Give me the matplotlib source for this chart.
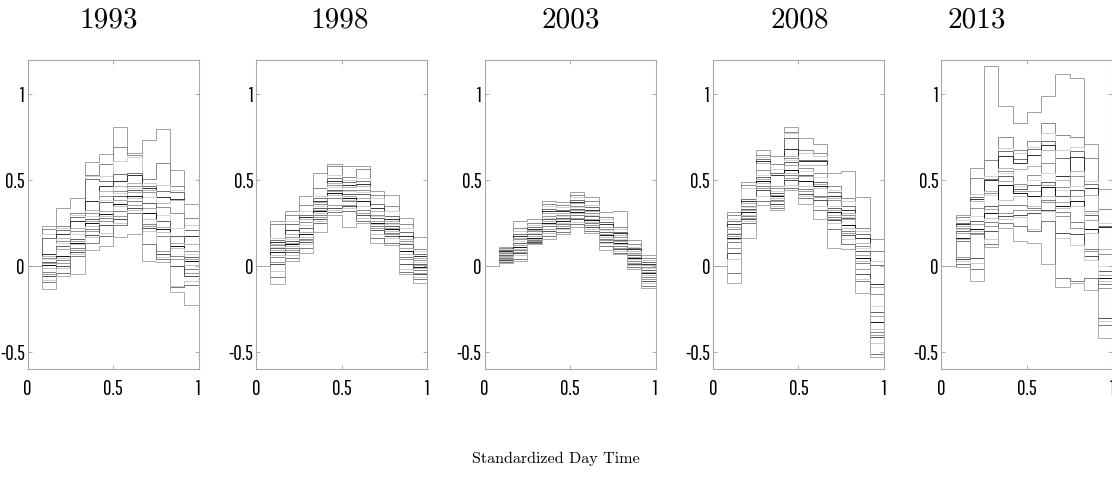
import numpy as np
import matplotlib
matplotlib.use("Agg")
import matplotlib.pyplot as plt

plt.rcParams['axes.unicode_minus'] = False

years = ['1993', '1998', '2003', '2008', '2013']
edges = np.linspace(0, 1, 13)

# levels per time bin (bins 2..12; bin 1 is 0 for every curve), read top to bottom
y1993 = [
    [0.232, 0.213, 0.184, 0.165, 0.068, 0.058, 0.049, 0.039, 0.023, 0.016, 0.004, -0.009, -0.033, -0.048, -0.058, -0.083, -0.096, -0.135],
    [0.339, 0.232, 0.223, 0.209, 0.184, 0.165, 0.145, 0.132, 0.116, 0.101, 0.058, 0.049, 0.035, 0.020, 0.000, -0.009, -0.038, -0.058],
    [0.397, 0.310, 0.300, 0.286, 0.261, 0.223, 0.203, 0.184, 0.155, 0.145, 0.136, 0.126, 0.107, 0.093, 0.081, 0.068, 0.058, -0.048],
    [0.604, 0.532, 0.522, 0.507, 0.377, 0.329, 0.310, 0.290, 0.275, 0.261, 0.248, 0.232, 0.217, 0.203, 0.178, 0.170, 0.136, 0.091],
    [0.652, 0.596, 0.522, 0.493, 0.464, 0.435, 0.406, 0.387, 0.371, 0.319, 0.304, 0.294, 0.281, 0.261, 0.236, 0.194, 0.174, 0.116],
    [0.812, 0.696, 0.613, 0.536, 0.493, 0.464, 0.435, 0.426, 0.406, 0.387, 0.364, 0.348, 0.319, 0.290, 0.271, 0.252, 0.236, 0.170],
    [0.658, 0.648, 0.634, 0.542, 0.532, 0.484, 0.468, 0.455, 0.441, 0.430, 0.410, 0.397, 0.377, 0.358, 0.339, 0.329, 0.306, 0.184],
    [0.735, 0.507, 0.484, 0.468, 0.455, 0.445, 0.430, 0.402, 0.368, 0.339, 0.306, 0.271, 0.242, 0.232, 0.223, 0.203, 0.126, 0.029],
    [0.797, 0.600, 0.474, 0.435, 0.402, 0.368, 0.344, 0.300, 0.265, 0.228, 0.217, 0.197, 0.174, 0.087, 0.068, 0.054, 0.039, 0.023],
    [0.557, 0.464, 0.445, 0.430, 0.391, 0.383, 0.310, 0.223, 0.174, 0.136, 0.116, 0.107, 0.058, 0.043, 0.000, -0.116, -0.125, -0.154],
    [0.362, 0.281, 0.236, 0.209, 0.174, 0.126, 0.087, 0.068, 0.054, 0.039, 0.029, 0.006, -0.019, -0.042, -0.058, -0.087, -0.112, -0.228],
]

y1998 = [
    [0.261, 0.242, 0.161, 0.149, 0.139, 0.130, 0.122, 0.112, 0.103, 0.091, 0.083, 0.064, 0.053, 0.025, 0.010, -0.029, -0.064, -0.106],
    [0.323, 0.296, 0.261, 0.242, 0.207, 0.184, 0.168, 0.155, 0.145, 0.136, 0.126, 0.116, 0.107, 0.095, 0.083, 0.064, 0.049, 0.029],
    [0.406, 0.354, 0.319, 0.300, 0.285, 0.271, 0.257, 0.238, 0.223, 0.199, 0.184, 0.168, 0.159, 0.149, 0.141, 0.126, 0.107, 0.078],
    [0.542, 0.455, 0.406, 0.397, 0.381, 0.371, 0.362, 0.348, 0.339, 0.329, 0.319, 0.310, 0.296, 0.285, 0.271, 0.261, 0.252, 0.198],
    [0.596, 0.580, 0.532, 0.513, 0.497, 0.484, 0.470, 0.459, 0.445, 0.435, 0.426, 0.416, 0.397, 0.358, 0.339, 0.329, 0.313, 0.296],
    [0.580, 0.517, 0.503, 0.489, 0.470, 0.459, 0.445, 0.435, 0.420, 0.406, 0.397, 0.387, 0.377, 0.358, 0.348, 0.339, 0.323, 0.228],
    [0.580, 0.567, 0.513, 0.493, 0.478, 0.464, 0.445, 0.431, 0.420, 0.397, 0.381, 0.348, 0.329, 0.310, 0.296, 0.281, 0.265, 0.252],
    [0.439, 0.416, 0.397, 0.362, 0.335, 0.319, 0.300, 0.290, 0.277, 0.261, 0.252, 0.242, 0.232, 0.223, 0.207, 0.184, 0.165, 0.136],
    [0.412, 0.348, 0.323, 0.290, 0.271, 0.265, 0.252, 0.242, 0.232, 0.223, 0.213, 0.203, 0.194, 0.184, 0.174, 0.165, 0.136, 0.122],
    [0.281, 0.246, 0.219, 0.199, 0.174, 0.159, 0.145, 0.136, 0.126, 0.107, 0.087, 0.068, 0.053, 0.039, 0.010, -0.019, -0.033, -0.048],
    [0.168, 0.097, 0.087, 0.072, 0.058, 0.045, 0.033, 0.025, 0.014, 0.006, -0.006, -0.014, -0.025, -0.039, -0.048, -0.064, -0.077, -0.097],
]

y2003 = [
    [0.112, 0.106, 0.100, 0.094, 0.088, 0.082, 0.077, 0.072, 0.066, 0.060, 0.055, 0.050, 0.045, 0.040, 0.035, 0.029, 0.022, 0.016],
    [0.261, 0.222, 0.203, 0.184, 0.174, 0.165, 0.155, 0.145, 0.132, 0.120, 0.112, 0.101, 0.093, 0.081, 0.074, 0.062, 0.043, 0.030],
    [0.271, 0.252, 0.236, 0.228, 0.217, 0.209, 0.201, 0.194, 0.184, 0.174, 0.165, 0.159, 0.151, 0.145, 0.139, 0.136, 0.132, 0.126],
    [0.377, 0.364, 0.348, 0.333, 0.319, 0.306, 0.294, 0.281, 0.271, 0.261, 0.252, 0.242, 0.232, 0.217, 0.203, 0.190, 0.174, 0.159],
    [0.373, 0.358, 0.344, 0.329, 0.319, 0.310, 0.300, 0.290, 0.281, 0.271, 0.261, 0.252, 0.242, 0.232, 0.223, 0.213, 0.197, 0.184],
    [0.429, 0.416, 0.402, 0.387, 0.375, 0.368, 0.352, 0.344, 0.333, 0.325, 0.314, 0.306, 0.296, 0.281, 0.271, 0.256, 0.242, 0.228],
    [0.402, 0.377, 0.358, 0.344, 0.329, 0.319, 0.310, 0.300, 0.290, 0.275, 0.267, 0.256, 0.248, 0.236, 0.228, 0.217, 0.203, 0.194],
    [0.315, 0.286, 0.271, 0.256, 0.242, 0.228, 0.217, 0.207, 0.197, 0.188, 0.178, 0.168, 0.159, 0.151, 0.141, 0.132, 0.116, 0.091],
    [0.319, 0.228, 0.213, 0.199, 0.190, 0.178, 0.168, 0.159, 0.151, 0.143, 0.136, 0.126, 0.116, 0.107, 0.097, 0.087, 0.078, 0.068],
    [0.151, 0.126, 0.112, 0.105, 0.097, 0.087, 0.078, 0.070, 0.062, 0.054, 0.047, 0.039, 0.029, 0.019, 0.010, 0.004, -0.004, -0.015],
    [0.062, 0.049, 0.035, 0.023, 0.014, 0.004, -0.004, -0.013, -0.023, -0.033, -0.042, -0.054, -0.063, -0.077, -0.087, -0.100, -0.116, -0.131],
]

y2008 = [
    [0.313, 0.300, 0.271, 0.261, 0.242, 0.228, 0.213, 0.194, 0.184, 0.174, 0.165, 0.155, 0.139, 0.107, 0.078, 0.039, -0.038, -0.100],
    [0.489, 0.474, 0.455, 0.391, 0.377, 0.368, 0.352, 0.344, 0.333, 0.325, 0.313, 0.300, 0.290, 0.281, 0.271, 0.261, 0.248, 0.165],
    [0.673, 0.648, 0.634, 0.623, 0.609, 0.600, 0.561, 0.532, 0.518, 0.507, 0.493, 0.484, 0.468, 0.455, 0.441, 0.406, 0.377, 0.358],
    [0.642, 0.596, 0.565, 0.542, 0.532, 0.464, 0.455, 0.435, 0.426, 0.414, 0.406, 0.395, 0.387, 0.377, 0.364, 0.352, 0.339, 0.325],
    [0.808, 0.783, 0.774, 0.745, 0.681, 0.638, 0.629, 0.619, 0.604, 0.590, 0.561, 0.542, 0.532, 0.513, 0.503, 0.474, 0.455, 0.445],
    [0.745, 0.677, 0.658, 0.619, 0.609, 0.590, 0.571, 0.551, 0.532, 0.522, 0.497, 0.464, 0.449, 0.435, 0.422, 0.410, 0.397, 0.364],
    [0.712, 0.658, 0.642, 0.619, 0.609, 0.590, 0.542, 0.518, 0.487, 0.480, 0.468, 0.455, 0.410, 0.402, 0.387, 0.352, 0.329, 0.275],
    [0.542, 0.464, 0.445, 0.430, 0.406, 0.397, 0.387, 0.352, 0.339, 0.325, 0.313, 0.300, 0.286, 0.275, 0.267, 0.252, 0.213, 0.107],
    [0.551, 0.397, 0.377, 0.348, 0.329, 0.306, 0.296, 0.286, 0.279, 0.271, 0.236, 0.223, 0.203, 0.194, 0.178, 0.155, 0.126, 0.097],
    [0.400, 0.223, 0.203, 0.184, 0.165, 0.136, 0.116, 0.107, 0.087, 0.062, 0.049, 0.029, 0.016, -0.015, -0.048, -0.077, -0.087, -0.158],
    [0.155, 0.087, 0.029, 0.004, -0.106, -0.125, -0.164, -0.232, -0.270, -0.290, -0.328, -0.367, -0.386, -0.402, -0.415, -0.448, -0.512, -0.531],
]

y2013 = [
    [0.300, 0.286, 0.267, 0.252, 0.242, 0.232, 0.223, 0.213, 0.203, 0.194, 0.165, 0.155, 0.145, 0.054, 0.043, 0.029, 0.010, -0.004],
    [0.571, 0.513, 0.420, 0.402, 0.391, 0.377, 0.339, 0.290, 0.261, 0.242, 0.217, 0.203, 0.194, 0.184, 0.049, 0.020, -0.015, -0.087],
    [1.164, 0.619, 0.522, 0.507, 0.499, 0.435, 0.426, 0.416, 0.348, 0.333, 0.306, 0.281, 0.255, 0.232, 0.203, 0.159, 0.126, 0.112],
    [0.932, 0.750, 0.687, 0.667, 0.638, 0.571, 0.551, 0.542, 0.522, 0.493, 0.474, 0.387, 0.358, 0.310, 0.290, 0.271, 0.248, 0.223],
    [0.832, 0.677, 0.658, 0.623, 0.600, 0.565, 0.480, 0.464, 0.449, 0.435, 0.426, 0.406, 0.358, 0.329, 0.300, 0.286, 0.232, 0.145],
    [0.899, 0.729, 0.692, 0.681, 0.648, 0.584, 0.532, 0.503, 0.474, 0.435, 0.410, 0.348, 0.339, 0.325, 0.310, 0.213, 0.203, 0.135],
    [0.990, 0.832, 0.774, 0.731, 0.706, 0.673, 0.600, 0.542, 0.487, 0.474, 0.460, 0.406, 0.387, 0.371, 0.329, 0.319, 0.261, 0.010],
    [1.118, 0.764, 0.673, 0.629, 0.526, 0.503, 0.460, 0.445, 0.406, 0.371, 0.352, 0.339, 0.313, 0.290, 0.193, 0.164, -0.067, -0.125],
    [1.098, 0.754, 0.692, 0.667, 0.634, 0.551, 0.522, 0.468, 0.441, 0.406, 0.377, 0.348, 0.255, 0.223, 0.184, 0.120, -0.087, -0.097],
    [0.710, 0.629, 0.493, 0.480, 0.455, 0.416, 0.319, 0.310, 0.300, 0.267, 0.217, 0.194, 0.101, 0.087, 0.058, 0.035, -0.067, -0.139],
    [0.449, 0.333, 0.248, 0.232, 0.228, 0.097, 0.068, 0.000, -0.029, -0.054, -0.067, -0.087, -0.106, -0.131, -0.300, -0.319, -0.344, -0.421],
]

panels = [y1993, y1998, y2003, y2008, y2013]

# gray shades for the curves (mixed order)
grays = ['#a0a0a0', '#8a8a8a', '#d0d0d0', '#707070', '#303030', '#b4b4b4',
         '#909090', '#d8d8d8', '#606060', '#a8a8a8', '#101010', '#c4c4c4',
         '#808080', '#989898', '#505050', '#cccccc', '#787878', '#acacac']

# title centres (px) as placed in the reference
title_x = [108.7, 340, 571, 800, 977]

fig = plt.figure(figsize=(11.12, 4.79), dpi=100)
W, H = 1112.0, 479.0
tick_font = ['Pathway Gothic One', 'Roboto Condensed', 'Archivo Narrow', 'DejaVu Sans']

for i, (year, bins) in enumerate(zip(years, panels)):
    left = 27.7 + 228.4 * i
    ax = fig.add_axes([left / W, (H - 369) / H, 171 / W, 309 / H])
    n = len(bins[0])
    for r in range(n):
        vals = [0.0] + [b[r] for b in bins]
        ax.stairs(vals, edges, baseline=None, color=grays[r % len(grays)], lw=0.7)
    ax.set_xlim(0, 1)
    ax.set_ylim(-0.6, 1.2)
    ax.set_xticks([0, 0.5, 1])
    ax.set_xticklabels(['0', '0.5', '1'], family=tick_font, fontsize=15)
    ax.set_yticks([-0.5, 0, 0.5, 1])
    ax.set_yticklabels(['-0.5', '0', '0.5', '1'], family=tick_font, fontsize=15)
    ax.tick_params(direction='in', length=3, width=0.6, color='#a0a0a0',
                   top=True, right=True, pad=2)
    ax.tick_params(axis='x', pad=7)
    for s in ax.spines.values():
        s.set_color('#a8a8a8')
        s.set_linewidth(0.8)
    fig.text(title_x[i] / W, 1 - 28 / H, year, family='cmr10',
             fontsize=21, ha='center', va='baseline')

fig.text(0.5, 1 - 459 / H, 'Standardized Day Time', family='cmr10',
         fontsize=11.6, ha='center', va='center')

fig.savefig('out.png', dpi=100)
